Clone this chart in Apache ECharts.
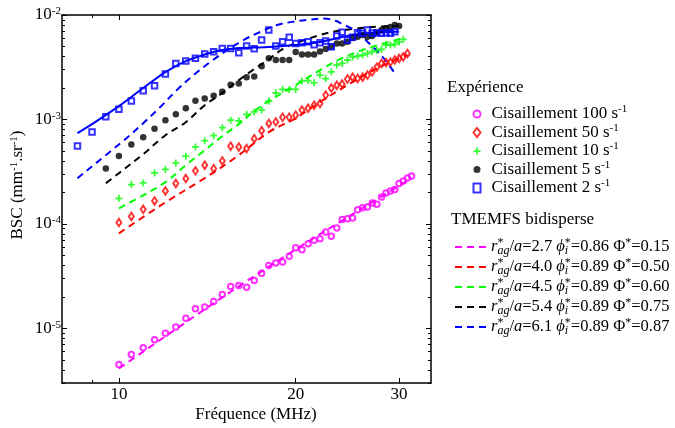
<!DOCTYPE html>
<html><head><meta charset="utf-8">
<script src="https://cdn.jsdelivr.net/npm/echarts@6/dist/echarts.min.js"></script>
<style>html,body{margin:0;padding:0;background:#fff}#c{width:675px;height:428px}</style>
</head><body><div id="c"></div>
<script>
// ---------- data ----------
const xTickLabels = [10, 20, 30];
const xMinorTicks = [9];
const yTickLabels = [1e-5, 1e-4, 1e-3, 1e-2];

const f100 = [10,10.5,11,11.5,12,12.5,13,13.5,14,14.5,15,15.5,16,16.5,17,17.5,18,18.5,19,19.5,20,20.5,21,21.5,22,22.5,23,23.5,24,24.5,25,25.5,26,26.5,27,27.5,28,28.5,29,29.5,30,30.5,31,31.5];
const bsc100 = [4.51e-6,5.62e-6,6.52e-6,7.78e-6,9.00e-6,1.03e-5,1.25e-5,1.54e-5,1.60e-5,1.81e-5,2.11e-5,2.52e-5,2.58e-5,2.48e-5,2.88e-5,3.38e-5,4.01e-5,4.22e-5,4.31e-5,4.89e-5,5.93e-5,5.67e-5,6.47e-5,6.96e-5,7.23e-5,8.36e-5,7.60e-5,9.14e-5,1.10e-4,1.12e-4,1.14e-4,1.37e-4,1.43e-4,1.45e-4,1.59e-4,1.54e-4,1.81e-4,1.98e-4,2.07e-4,2.13e-4,2.44e-4,2.58e-4,2.75e-4,2.88e-4];

const f50 = [10,10.5,11,11.5,12,12.5,13,13.5,14,14.5,15,15.5,16,16.5,17,17.5,18,18.5,19,19.5,20,20.5,21,21.5,22,22.5,23,23.5,24,24.5,25,25.5,26,26.5,27,27.5,28,28.5,29,29.5,30,30.5,31];
const bsc50 = [1.03e-4,1.18e-4,1.38e-4,1.66e-4,2.07e-4,2.44e-4,2.72e-4,3.22e-4,3.65e-4,3.38e-4,4.01e-4,5.55e-4,5.46e-4,5.27e-4,6.55e-4,7.81e-4,9.16e-4,9.48e-4,1.05e-3,1.05e-3,1.10e-3,1.23e-3,1.28e-3,1.37e-3,1.42e-3,1.71e-3,2.00e-3,2.13e-3,2.18e-3,2.44e-3,2.54e-3,2.47e-3,2.54e-3,2.66e-3,2.86e-3,3.17e-3,3.44e-3,3.50e-3,3.54e-3,3.70e-3,3.83e-3,3.98e-3,4.29e-3];

const f10 = [10,10.5,11,11.5,12,12.5,13,13.5,14,14.5,15,15.5,16,16.5,17,17.5,18,18.5,19,19.5,20,20.5,21,21.5,22,22.5,23,23.5,24,24.5,25,25.5,26,26.5,27,27.5,28,28.5,29,29.5,30,30.5];
const bsc10 = [1.76e-4,2.38e-4,2.47e-4,3.08e-4,3.32e-4,3.84e-4,4.45e-4,5.46e-4,6.26e-4,6.99e-4,8.34e-4,9.85e-4,9.70e-4,1.12e-3,1.18e-3,1.23e-3,1.50e-3,1.80e-3,1.94e-3,1.94e-3,1.94e-3,2.33e-3,2.36e-3,2.24e-3,2.66e-3,2.46e-3,2.86e-3,3.32e-3,3.44e-3,3.70e-3,3.96e-3,4.05e-3,4.14e-3,4.28e-3,4.45e-3,4.57e-3,4.69e-3,5.16e-3,5.16e-3,5.27e-3,5.51e-3,5.85e-3];

const f5 = [9.5,10,10.5,11,11.5,12,12.5,13,13.5,14,14.5,15,15.5,16,16.5,17,17.5,18,18.5,19,19.5,20,20.5,21,21.5,22,22.5,23,23.5,24,24.5,25,25.5,26,26.5,27,27.5,28,28.5,29,29.5,30];
const bsc5 = [3.39e-4,4.48e-4,5.76e-4,6.77e-4,8.16e-4,9.85e-4,1.12e-3,1.28e-3,1.51e-3,1.59e-3,1.69e-3,1.84e-3,2.15e-3,2.21e-3,2.53e-3,2.58e-3,3.24e-3,3.85e-3,3.70e-3,3.70e-3,3.70e-3,4.42e-3,4.18e-3,4.18e-3,4.18e-3,4.47e-3,4.72e-3,4.97e-3,5.33e-3,5.35e-3,5.55e-3,6.02e-3,6.19e-3,6.43e-3,6.19e-3,6.29e-3,6.72e-3,7.18e-3,7.46e-3,7.67e-3,8.02e-3,7.85e-3];

const f2 = [8.5,9,9.5,10,10.5,11,11.5,12,12.5,13,13.5,14,14.5,15,15.5,16,16.5,17,17.5,18,18.5,19,19.5,20,20.5,21,21.5,22,22.5,23,23.5,24,24.5,25,25.5,26,26.5,27,27.5,28,28.5,29,29.5];
const bsc2 = [5.58e-4,7.60e-4,1.06e-3,1.25e-3,1.50e-3,1.88e-3,2.10e-3,2.72e-3,3.44e-3,3.62e-3,3.85e-3,4.23e-3,4.45e-3,4.79e-3,4.79e-3,4.35e-3,5.05e-3,4.75e-3,5.76e-3,7.18e-3,5.05e-3,5.55e-3,6.11e-3,5.35e-3,5.43e-3,5.55e-3,5.19e-3,5.43e-3,5.63e-3,4.97e-3,6.29e-3,6.83e-3,5.76e-3,6.11e-3,6.77e-3,6.68e-3,7.18e-3,6.68e-3,6.77e-3,6.68e-3,6.77e-3,6.68e-3,6.92e-3];

// TMEMFS model curves
const mf100 = [10,15,20,25,31.5];
const model100 = [4.13e-6,1.98e-5,5.71e-5,1.24e-4,2.74e-4];
const mf50 = [10,12,14,16,18,20,22,25,28,31];
const model50 = [8.13e-5,1.61e-4,2.74e-4,4.55e-4,7.56e-4,1.03e-3,1.47e-3,2.28e-3,3.24e-3,4.14e-3];
const mf10 = [10,11,12,13,14,15,16,17,18,20,22,24,26,28,30.5];
const model10 = [1.41e-4,1.88e-4,2.51e-4,3.65e-4,5.08e-4,6.92e-4,9.02e-4,1.20e-3,1.50e-3,2.13e-3,2.97e-3,3.87e-3,4.62e-3,5.27e-3,6.02e-3];
const mf5 = [9.5,10,11,12,13,14,15,16,17,18,19,20,22,23,25,27,30];
const model5 = [2.45e-4,3.06e-4,4.65e-4,7.07e-4,9.42e-4,1.37e-3,1.79e-3,2.38e-3,3.04e-3,3.77e-3,4.72e-3,5.39e-3,6.43e-3,6.87e-3,7.34e-3,7.67e-3,7.85e-3];
const mf2 = [8.5,10.3,11,11.75,12.55,13.4,14.3,15.3,16.3,17.4,18.6,19.9,21.2,22.2,23.2,24.2,25.5,26.5,27.6,28.7,29.5];
const model2 = [2.74e-4,6.62e-4,9.22e-4,1.31e-3,1.91e-3,2.66e-3,3.54e-3,4.62e-3,5.76e-3,6.87e-3,8.02e-3,8.67e-3,9.06e-3,9.26e-3,8.96e-3,8.02e-3,6.92e-3,5.55e-3,4.45e-3,3.44e-3,2.76e-3];
// solid fit for 2 s-1
const ff2 = [8.5,9,10,11,12,13,14,15,16,17,18,20,22,24,25,27,30];
const fit2 = [7.39e-4,9.02e-4,1.34e-3,2.00e-3,2.84e-3,3.62e-3,4.18e-3,4.62e-3,4.83e-3,4.88e-3,4.93e-3,5.16e-3,5.51e-3,6.15e-3,6.43e-3,6.72e-3,6.95e-3];

const shearRates = ['100','50','10','5','2'];
const ragRatio = ['2.7','4.0','4.5','5.4','6.1'];
const phiI = ['0.86','0.89','0.89','0.89','0.89'];
const phiEff = ['0.15','0.50','0.60','0.75','0.87'];
const colors = ['#ff00ff','#ff0000','#00ff00','#000000','#0000ff'];

// ---------- chart ----------
const FONT = 'Liberation Serif';
const zip = (fs, vs) => fs.map((f, i) => [f, vs[i]]);
const expData = [zip(f100,bsc100), zip(f50,bsc50), zip(f10,bsc10), zip(f5,bsc5), zip(f2,bsc2)];
const modelData = [zip(mf100,model100), zip(mf50,model50), zip(mf10,model10), zip(mf5,model5), zip(mf2,model2)];
const expNames = shearRates.map(s => 'Cisaillement ' + s + ' s-1');
const modelNames = ragRatio.map((r, i) => 'model' + i);

const yMinor = [];
[1e-6,1e-5,1e-4,1e-3].forEach(d => { for (let k = 2; k <= 9; k++) { const v = +(k*d).toPrecision(3); if (v >= 3e-6) yMinor.push(v); } });

const plusPath = 'path://M3,0H5V3H8V5H5V8H3V5H0V3H3Z';
const symbols = ['circle','diamond',plusPath,'circle','rect'];
const sizes = [5.5,[5,7.5],7,6.5,5.5];
const hollow = [true,true,false,false,true];

const series = [];
modelData.forEach((d, i) => {
  series.push({
    name: modelNames[i], type: 'line', data: d, symbol: 'none', smooth: 0.35,
    color: colors[i], lineStyle: {color: colors[i], width: 2, type: [7,5]}, z: 2
  });
});
series.push({
  name: 'fit2', type: 'line', data: zip(ff2, fit2), symbol: 'none', smooth: 0.35,
  color: colors[4], lineStyle: {color: colors[4], width: 2}, z: 2
});
expData.forEach((d, i) => {
  series.push({
    name: expNames[i], type: 'scatter', data: d, symbol: symbols[i], symbolSize: sizes[i],
    itemStyle: hollow[i] ? {color: 'rgba(255,255,255,0)', borderColor: colors[i], borderWidth: 2}
                         : {color: colors[i], borderWidth: 0},
    z: 3
  });
});

const axisCommon = {type: 'log', logBase: 10, splitLine: {show: false}};
const xBase = Object.assign({}, axisCommon, {min: 8, max: 34});
const yBase = Object.assign({}, axisCommon, {min: 3e-6, max: 1e-2});
const lineOn = {show: true, lineStyle: {color: '#000', width: 1.5}};
const lineOff = {show: false};

const supRich = {
  b: {fontFamily: FONT, fontSize: 17, color: '#000', lineHeight: 18},
  s: {fontFamily: FONT, fontSize: 11, color: '#000', lineHeight: 12, verticalAlign: 'top'}
};

const option = {
  animation: false,
  backgroundColor: '#fff',
  grid: {left: 62, right: 244, top: 15, bottom: 45, containLabel: false, outerBoundsMode: 'none'},
  xAxis: [
    Object.assign({}, xBase, {position: 'bottom', axisLine: lineOn,
      axisTick: {show: true, inside: true, length: 5, customValues: xTickLabels, lineStyle: {color: '#000'}},
      axisLabel: {show: true, customValues: xTickLabels, margin: 3, fontFamily: FONT, fontSize: 17, color: '#000'}}),
    Object.assign({}, xBase, {position: 'bottom', axisLine: lineOff,
      axisTick: {show: true, inside: true, length: 3, customValues: xMinorTicks, lineStyle: {color: '#000'}},
      axisLabel: {show: false}}),
    Object.assign({}, xBase, {position: 'top', axisLine: lineOn,
      axisTick: {show: true, inside: true, length: 5, customValues: xTickLabels, lineStyle: {color: '#000'}},
      axisLabel: {show: false}}),
    Object.assign({}, xBase, {position: 'top', axisLine: lineOff,
      axisTick: {show: true, inside: true, length: 3, customValues: xMinorTicks, lineStyle: {color: '#000'}},
      axisLabel: {show: false}})
  ],
  yAxis: [
    Object.assign({}, yBase, {position: 'left', axisLine: lineOn,
      axisTick: {show: true, inside: true, length: 5, customValues: yTickLabels, lineStyle: {color: '#000'}},
      axisLabel: {show: true, customValues: yTickLabels, margin: 1,
        formatter: v => '{b|10}{s|' + Math.round(Math.log10(v)) + '}', rich: supRich}}),
    Object.assign({}, yBase, {position: 'left', axisLine: lineOff,
      axisTick: {show: true, inside: true, length: 3, customValues: yMinor, lineStyle: {color: '#000'}},
      axisLabel: {show: false}}),
    Object.assign({}, yBase, {position: 'right', axisLine: lineOn,
      axisTick: {show: true, inside: true, length: 5, customValues: yTickLabels, lineStyle: {color: '#000'}},
      axisLabel: {show: false}}),
    Object.assign({}, yBase, {position: 'right', axisLine: lineOff,
      axisTick: {show: true, inside: true, length: 3, customValues: yMinor, lineStyle: {color: '#000'}},
      axisLabel: {show: false}})
  ],
  legend: [
    {
      data: expNames, orient: 'vertical', left: 467.5, top: 99, itemGap: 0,
      itemWidth: 7, itemHeight: 9, selectedMode: false,
      formatter: name => '{t|' + name.replace(' s-1', ' s') + '}{s|-1}',
      textStyle: {fontFamily: FONT, fontSize: 17, color: '#000', rich: {
        t: {fontFamily: FONT, fontSize: 17, color: '#000', lineHeight: 20, padding: [0,0,0,6]},
        s: {fontFamily: FONT, fontSize: 11, color: '#000', lineHeight: 14, verticalAlign: 'top'}
      }}
    },
    {
      data: modelNames.map(n => ({name: n, icon: 'path://M0,0H7V2H0Z M12,0H19V2H12Z M24,0H31V2H24Z'})),
      orient: 'vertical', left: 450, top: 232, itemGap: 0,
      itemWidth: 31, itemHeight: 2, selectedMode: false,
      formatter: name => {
        const i = modelNames.indexOf(name);
        return '{it|r}{st0|*}{sb|ag}{n|/}{it|a}{n|=' + ragRatio[i] + ' }{it|ϕ}{st0|*}{sbi|i}{n|=' + phiI[i] + ' Φ}{st|*}{n|=' + phiEff[i] + '}';
      },
      textStyle: {fontFamily: FONT, fontSize: 16.5, color: '#000', rich: {
        n: {fontFamily: FONT, fontSize: 16.5, color: '#000', lineHeight: 20},
        it: {fontFamily: FONT, fontSize: 16.5, fontStyle: 'italic', color: '#000', lineHeight: 20},
        st0: {fontFamily: FONT, fontSize: 12, color: '#000', lineHeight: 13, verticalAlign: 'top', width: 0},
        st: {fontFamily: FONT, fontSize: 12, color: '#000', lineHeight: 13, verticalAlign: 'top'},
        sb: {fontFamily: FONT, fontSize: 12, fontStyle: 'italic', color: '#000', lineHeight: 12, verticalAlign: 'bottom'},
        sbi: {fontFamily: FONT, fontSize: 12, fontStyle: 'italic', color: '#000', lineHeight: 12, verticalAlign: 'bottom', width: 6}
      }}
    }
  ],
  graphic: [
    {type: 'text', x: 447, y: 88, style: {text: 'Expérience', fontFamily: FONT, fontSize: 17, fill: '#000', verticalAlign: 'middle'}},
    {type: 'text', x: 451, y: 220, style: {text: 'TMEMFS bidisperse', fontFamily: FONT, fontSize: 17, fill: '#000', verticalAlign: 'middle'}},
    {type: 'text', x: 256, y: 415, style: {text: 'Fréquence (MHz)', fontFamily: FONT, fontSize: 17, fill: '#000', align: 'center', verticalAlign: 'middle'}},
    {type: 'text', x: 18, y: 185, rotation: Math.PI / 2, style: {
      text: '{b|BSC (mm}{s|-1}{b|.sr}{s|-1}{b|)}', align: 'center', verticalAlign: 'middle',
      rich: {b: {fontFamily: FONT, fontSize: 17, fill: '#000', lineHeight: 18}, s: {fontFamily: FONT, fontSize: 11, fill: '#000', lineHeight: 12, verticalAlign: 'top'}}
    }}
  ],
  series: series
};

const chart = echarts.init(document.getElementById('c'), null, {renderer: 'canvas'});
chart.setOption(option);
</script>
</body></html>
